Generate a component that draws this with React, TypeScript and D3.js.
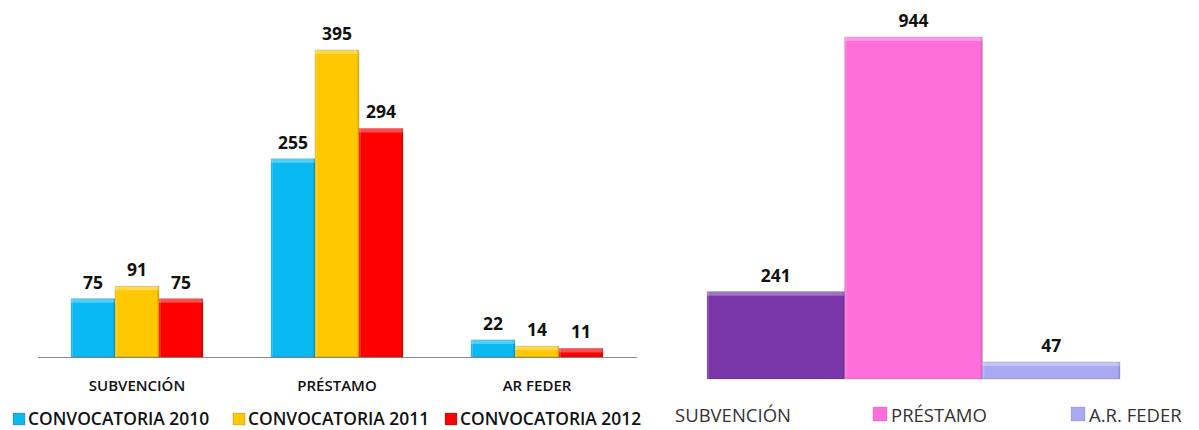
import { scaleBand, scaleLinear } from "d3";

const groups = ["SUBVENCIÓN", "PRÉSTAMO", "AR FEDER"];
const seriesNames = ["CONVOCATORIA 2010", "CONVOCATORIA 2011", "CONVOCATORIA 2012"];
const conv2010 = [75, 255, 22];
const conv2011 = [91, 395, 14];
const conv2012 = [75, 294, 11];
const seriesColors = ["#0ab9f2", "#ffc800", "#ff0000"];

const totalCats = ["SUBVENCIÓN", "PRÉSTAMO", "A.R. FEDER"];
const totalValues = [241, 944, 47];
const totalColors = ["#7a35a8", "#ff6edb", "#a9a9f2"];

const font = "'Open Sans', 'Noto Sans', sans-serif";

const Bar = ({ x, y, w, h, color }: { x: number; y: number; w: number; h: number; color: string }) => (
  <g>
    <rect x={x} y={y} width={w} height={h} fill={color} stroke="rgba(0,0,0,0.18)" strokeWidth={0.8} />
    <rect x={x} y={y} width={w} height={Math.min(4, h)} fill="#ffffff" opacity={0.3} />
    <rect x={x} y={y} width={2} height={h} fill="#ffffff" opacity={0.15} />
    <rect x={x + w - 2} y={y} width={2} height={h} fill="#000000" opacity={0.08} />
  </g>
);

export default function App() {
  const series = [conv2010, conv2011, conv2012];

  // left chart
  const x0 = scaleBand().domain(groups).range([37, 637]);
  const x1 = scaleBand()
    .domain(seriesNames)
    .range([x0.bandwidth() / 2 - 66, x0.bandwidth() / 2 + 66]);
  const yL = scaleLinear().domain([0, 395]).range([357, 50]);

  // right chart
  const xR = scaleBand().domain(totalCats).range([707, 1120]);
  const yR = scaleLinear().domain([0, 944]).range([379, 37]);

  const legendX = [13, 233, 445];
  const rLegendX = [675, 873, 1071];

  return (
    <svg width={1199} height={430} style={{ position: "absolute", left: 0, top: 0, background: "#fff" }}>
      {/* left chart */}
      <line x1={38} x2={637} y1={357.5} y2={357.5} stroke="#8c8c8c" strokeWidth={1} />
      {groups.map((g, gi) => (
        <g key={g}>
          {seriesNames.map((s, si) => {
            const v = series[si][gi];
            const bx = (x0(g) ?? 0) + (x1(s) ?? 0);
            const by = yL(v);
            return (
              <g key={s}>
                <Bar x={bx} y={by} w={x1.bandwidth()} h={yL(0) - by} color={seriesColors[si]} />
                <text
                  x={bx + x1.bandwidth() / 2}
                  y={by - 10}
                  textAnchor="middle"
                  fontFamily={font}
                  fontWeight={700}
                  fontSize={17.5}
                  fill="#111"
                >
                  {v}
                </text>
              </g>
            );
          })}
          <text
            x={(x0(g) ?? 0) + x0.bandwidth() / 2}
            y={391}
            textAnchor="middle"
            fontFamily={font}
            fontWeight={600}
            fontSize={15}
            fill="#111"
          >
            {g}
          </text>
        </g>
      ))}
      {seriesNames.map((s, si) => (
        <g key={s}>
          <rect x={legendX[si]} y={413} width={12} height={12} fill={seriesColors[si]} stroke="rgba(0,0,0,0.15)" />
          <text x={legendX[si] + 15} y={425} fontFamily={font} fontWeight={600} fontSize={17.4} fill="#111">
            {s}
          </text>
        </g>
      ))}

      {/* right chart */}
      {totalCats.map((c, i) => {
        const bx = xR(c) ?? 0;
        const by = yR(totalValues[i]);
        return (
          <g key={c}>
            <Bar x={bx} y={by} w={xR.bandwidth()} h={yR(0) - by} color={totalColors[i]} />
            <text
              x={bx + xR.bandwidth() / 2}
              y={by - 10}
              textAnchor="middle"
              fontFamily={font}
              fontWeight={700}
              fontSize={17.5}
              fill="#111"
            >
              {totalValues[i]}
            </text>
          </g>
        );
      })}
      {totalCats.map((c, i) => (
        <g key={c}>
          {i > 0 && (
            <rect x={rLegendX[i]} y={407} width={14} height={14} fill={totalColors[i]} stroke="rgba(0,0,0,0.1)" />
          )}
          <text
            x={i > 0 ? rLegendX[i] + 18 : rLegendX[i]}
            y={422}
            fontFamily={font}
            fontSize={18.5}
            fill="#333"
          >
            {c}
          </text>
        </g>
      ))}
    </svg>
  );
}
